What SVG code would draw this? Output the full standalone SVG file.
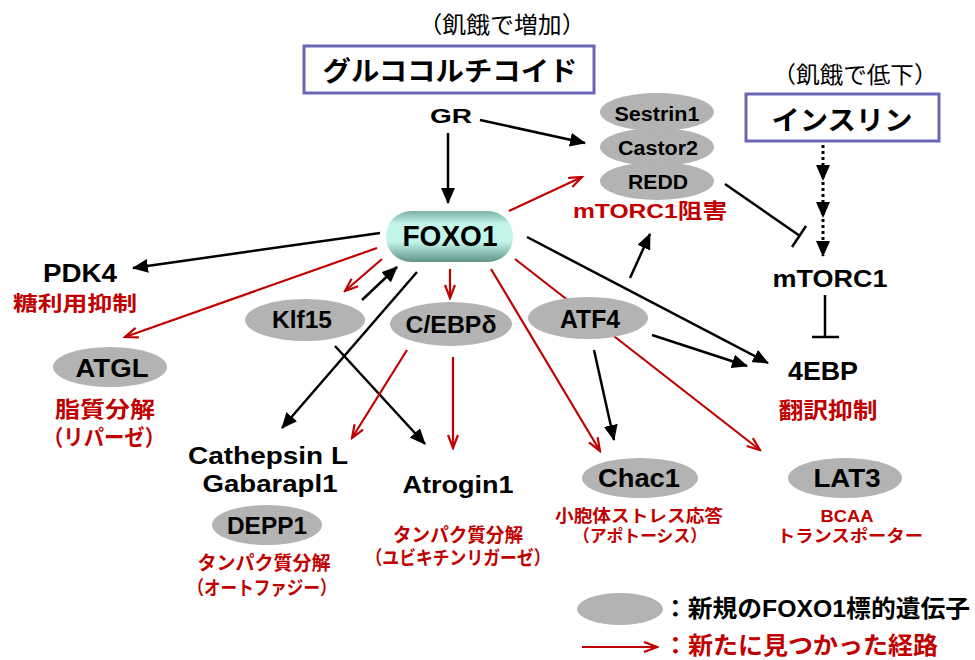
<svg xmlns="http://www.w3.org/2000/svg" width="975" height="660" viewBox="0 0 975 660">
<defs>
<style>
text{font-family:"Liberation Sans","Noto Sans CJK JP",sans-serif;text-anchor:middle;font-weight:bold;fill:#000}
.red{fill:#c00000}
.n{font-weight:normal}
.st{text-anchor:start}
.gene{fill:#b3b3b3}
.box{fill:#fff;stroke:#6b65b5;stroke-width:3}
.bk{stroke:#000;stroke-width:2.5;fill:none}
.rd{stroke:#c00000;stroke-width:2.2;fill:none}
</style>
<marker id="ab" markerUnits="userSpaceOnUse" markerWidth="16" markerHeight="14" refX="15" refY="7" orient="auto"><path d="M0,0 L16,7 L0,14 z" fill="#000"/></marker>
<marker id="ar" markerUnits="userSpaceOnUse" markerWidth="16" markerHeight="14" refX="14" refY="6" orient="auto"><path d="M1,1 L14,6 L1,11" fill="none" stroke="#c00000" stroke-width="2.2"/></marker>
<linearGradient id="fg" x1="0" y1="0" x2="0" y2="1">
<stop offset="0" stop-color="#7cb0a5"/><stop offset="0.25" stop-color="#c2f4ea"/><stop offset="0.6" stop-color="#c2f4ea"/><stop offset="1" stop-color="#5f9389"/>
</linearGradient>
</defs>
<rect width="975" height="660" fill="#fff"/>

<g id="connectors">
<line class="bk" x1="448" y1="133" x2="448" y2="203" marker-end="url(#ab)"/>
<line class="bk" x1="480" y1="120" x2="585" y2="143" marker-end="url(#ab)"/>
<line class="rd" x1="509" y1="211" x2="582" y2="177" marker-end="url(#ar)"/>
<line class="bk" x1="725" y1="184" x2="800" y2="236"/>
<line class="bk" x1="792" y1="247" x2="806" y2="226"/>
<line stroke="#000" stroke-width="3" stroke-dasharray="3,3" x1="823" y1="145" x2="823" y2="180" marker-end="url(#ab)"/>
<line stroke="#000" stroke-width="3" stroke-dasharray="3,3" x1="823" y1="182" x2="823" y2="217" marker-end="url(#ab)"/>
<line stroke="#000" stroke-width="3" stroke-dasharray="3,3" x1="823" y1="219" x2="823" y2="256" marker-end="url(#ab)"/>
<line class="bk" x1="825" y1="295" x2="825" y2="337"/>
<line class="bk" x1="812" y1="337" x2="839" y2="337"/>
<line class="bk" x1="380" y1="233" x2="133" y2="268" marker-end="url(#ab)"/>
<line class="rd" x1="377" y1="248" x2="125" y2="337" marker-end="url(#ar)"/>
<line class="rd" x1="382" y1="259" x2="345" y2="291" marker-end="url(#ar)"/>
<line class="bk" x1="362" y1="300" x2="397" y2="267" marker-end="url(#ab)"/>
<line class="bk" x1="417" y1="272" x2="282" y2="428" marker-end="url(#ab)"/>
<line class="bk" x1="335" y1="346" x2="425" y2="444" marker-end="url(#ab)"/>
<line class="rd" x1="407" y1="350" x2="352" y2="438" marker-end="url(#ar)"/>
<line class="rd" x1="453" y1="357" x2="453" y2="448" marker-end="url(#ar)"/>
<line class="rd" x1="450" y1="269" x2="450" y2="298" marker-end="url(#ar)"/>
<line class="rd" x1="491" y1="269" x2="600" y2="451" marker-end="url(#ar)"/>
<line class="rd" x1="515" y1="259" x2="760" y2="450" marker-end="url(#ar)"/>
<line class="bk" x1="527" y1="237" x2="768" y2="363" marker-end="url(#ab)"/>
<line class="bk" x1="652" y1="335" x2="747" y2="366" marker-end="url(#ab)"/>
<line class="bk" x1="630" y1="278" x2="650" y2="234" marker-end="url(#ab)"/>
<line class="bk" x1="594" y1="350" x2="614" y2="440" marker-end="url(#ab)"/>
</g>

<g id="glucocorticoid">
<text class="n" x="502" y="33" font-size="23" textLength="167" lengthAdjust="spacingAndGlyphs">（飢餓で増加）</text>
<rect class="box" x="304" y="46" width="290" height="47"/>
<text x="450" y="81" font-size="27" textLength="255" lengthAdjust="spacingAndGlyphs">グルココルチコイド</text>
</g>
<g id="gr"><text x="451" y="123" font-size="21" textLength="42" lengthAdjust="spacingAndGlyphs">GR</text></g>

<g id="sestrin1"><ellipse class="gene" cx="657" cy="112" rx="57" ry="19"/><text x="657" y="121" font-size="20" textLength="85" lengthAdjust="spacingAndGlyphs">Sestrin1</text></g>
<g id="castor2"><ellipse class="gene" cx="657" cy="147" rx="57" ry="19"/><text x="658" y="155" font-size="20" textLength="80" lengthAdjust="spacingAndGlyphs">Castor2</text></g>
<g id="redd"><ellipse class="gene" cx="657" cy="181" rx="57" ry="19"/><text x="658" y="189" font-size="20" textLength="60" lengthAdjust="spacingAndGlyphs">REDD</text></g>
<g id="mtorc1-inhib"><text class="red" x="650" y="218" font-size="21" textLength="154" lengthAdjust="spacingAndGlyphs">mTORC1阻害</text></g>

<g id="insulin">
<text class="n" x="855" y="83" font-size="23" textLength="165" lengthAdjust="spacingAndGlyphs">（飢餓で低下）</text>
<rect class="box" x="746" y="94" width="193" height="47"/>
<text x="842" y="130" font-size="27" textLength="141" lengthAdjust="spacingAndGlyphs">インスリン</text>
</g>
<g id="mtorc1"><text x="830" y="287" font-size="23" textLength="115" lengthAdjust="spacingAndGlyphs">mTORC1</text></g>
<g id="4ebp"><text x="823" y="380" font-size="25" textLength="70" lengthAdjust="spacingAndGlyphs">4EBP</text><text class="red" x="828" y="418" font-size="22" textLength="99" lengthAdjust="spacingAndGlyphs">翻訳抑制</text></g>

<g id="foxo1"><rect x="386" y="211" width="127" height="51" rx="25" fill="url(#fg)"/><text x="450" y="246" font-size="29" textLength="95" lengthAdjust="spacingAndGlyphs">FOXO1</text></g>

<g id="pdk4"><text x="80" y="282" font-size="25" textLength="74" lengthAdjust="spacingAndGlyphs">PDK4</text><text class="red" x="75" y="311" font-size="20" textLength="124" lengthAdjust="spacingAndGlyphs">糖利用抑制</text></g>
<g id="atgl"><ellipse class="gene" cx="110" cy="367" rx="57" ry="20"/><text x="112" y="377" font-size="25" textLength="73" lengthAdjust="spacingAndGlyphs">ATGL</text>
<text class="red" x="105" y="417" font-size="22" textLength="100" lengthAdjust="spacingAndGlyphs">脂質分解</text><text class="red" x="104" y="445" font-size="22" textLength="122" lengthAdjust="spacingAndGlyphs">（リパーゼ）</text></g>

<g id="klf15"><ellipse class="gene" cx="305" cy="320" rx="60" ry="21"/><text x="302" y="328" font-size="23" textLength="60" lengthAdjust="spacingAndGlyphs">Klf15</text></g>
<g id="cebpd"><ellipse class="gene" cx="451" cy="324" rx="61" ry="22"/><text x="451" y="333" font-size="24" textLength="91" lengthAdjust="spacingAndGlyphs">C/EBPδ</text></g>
<g id="atf4"><ellipse class="gene" cx="588" cy="318" rx="60" ry="21"/><text x="590" y="328" font-size="25" textLength="60" lengthAdjust="spacingAndGlyphs">ATF4</text></g>

<g id="cathepsin"><text x="268" y="464" font-size="24" textLength="160" lengthAdjust="spacingAndGlyphs">Cathepsin L</text><text x="270" y="492" font-size="24" textLength="135" lengthAdjust="spacingAndGlyphs">Gabarapl1</text></g>
<g id="depp1"><ellipse class="gene" cx="267" cy="525" rx="55" ry="20"/><text x="267" y="534" font-size="24" textLength="80" lengthAdjust="spacingAndGlyphs">DEPP1</text>
<text class="red" x="264" y="570" font-size="19" textLength="133" lengthAdjust="spacingAndGlyphs">タンパク質分解</text><text class="red" x="262" y="595" font-size="19" textLength="149" lengthAdjust="spacingAndGlyphs">（オートファジー）</text></g>
<g id="atrogin1"><text x="458" y="493" font-size="24" textLength="111" lengthAdjust="spacingAndGlyphs">Atrogin1</text>
<text class="red" x="458" y="542" font-size="19" textLength="130" lengthAdjust="spacingAndGlyphs">タンパク質分解</text><text class="red" x="458" y="565" font-size="19" textLength="185" lengthAdjust="spacingAndGlyphs">（ユビキチンリガーゼ）</text></g>

<g id="chac1"><ellipse class="gene" cx="640" cy="478" rx="58" ry="20"/><text x="639" y="487" font-size="25" textLength="82" lengthAdjust="spacingAndGlyphs">Chac1</text>
<text class="red" x="639" y="522" font-size="17" textLength="168" lengthAdjust="spacingAndGlyphs">小胞体ストレス応答</text><text class="red" x="640" y="542" font-size="17" textLength="134" lengthAdjust="spacingAndGlyphs">（アポトーシス）</text></g>
<g id="lat3"><ellipse class="gene" cx="845" cy="478" rx="57" ry="20"/><text x="847" y="487" font-size="25" textLength="67" lengthAdjust="spacingAndGlyphs">LAT3</text>
<text class="red" x="847" y="522" font-size="17" textLength="53" lengthAdjust="spacingAndGlyphs">BCAA</text><text class="red" x="850" y="542" font-size="17" textLength="146" lengthAdjust="spacingAndGlyphs">トランスポーター</text></g>

<g id="legend">
<ellipse class="gene" cx="620" cy="609" rx="43" ry="16"/>
<text class="st" x="663" y="617" font-size="24" textLength="307" lengthAdjust="spacingAndGlyphs">：新規のFOXO1標的遺伝子</text>
<line class="rd" x1="582" y1="647" x2="657" y2="647" marker-end="url(#ar)"/>
<text class="red st" x="663" y="654" font-size="24" textLength="275" lengthAdjust="spacingAndGlyphs">：新たに見つかった経路</text>
</g>
</svg>
